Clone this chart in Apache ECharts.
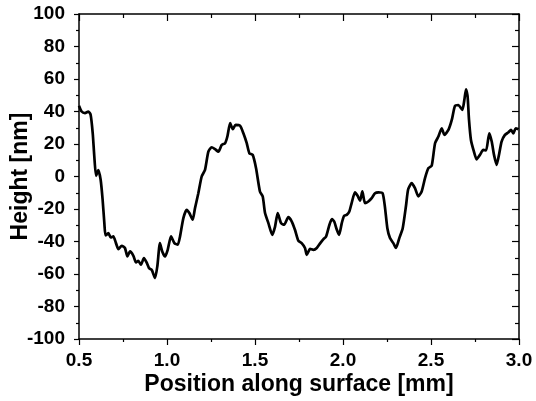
<!DOCTYPE html>
<html>
<head>
<meta charset="utf-8">
<script src="https://cdn.jsdelivr.net/npm/echarts@6/dist/echarts.min.js"></script>
<style>
  html, body { margin: 0; padding: 0; background: #fff; }
  #chart { width: 536px; height: 401px; }
</style>
</head>
<body>
<div id="chart"></div>
<script>
// surface profile
var positionMm = [
  0.500, 0.515, 0.534, 0.553, 0.566, 0.578, 0.587, 0.597, 0.610, 0.623,
  0.634, 0.644, 0.651, 0.667, 0.680, 0.695, 0.710, 0.724, 0.743, 0.761,
  0.775, 0.790, 0.809, 0.824, 0.837, 0.852, 0.869, 0.884, 0.898, 0.913,
  0.932, 0.945, 0.960, 0.973, 0.989, 1.004, 1.023, 1.042, 1.061, 1.074,
  1.093, 1.112, 1.127, 1.146, 1.159, 1.178, 1.197, 1.216, 1.235, 1.254,
  1.273, 1.292, 1.311, 1.330, 1.343, 1.359, 1.374, 1.390, 1.415, 1.434,
  1.453, 1.468, 1.487, 1.506, 1.528, 1.544, 1.557, 1.576, 1.598, 1.614,
  1.629, 1.648, 1.666, 1.689, 1.709, 1.727, 1.746, 1.765, 1.784, 1.794,
  1.813, 1.832, 1.851, 1.871, 1.889, 1.904, 1.923, 1.937, 1.950, 1.965,
  1.978, 1.993, 2.006, 2.021, 2.036, 2.049, 2.068, 2.083, 2.097, 2.110,
  2.125, 2.144, 2.163, 2.182, 2.201, 2.225, 2.238, 2.252, 2.267, 2.286,
  2.301, 2.320, 2.339, 2.358, 2.370, 2.390, 2.409, 2.428, 2.447, 2.466,
  2.485, 2.504, 2.523, 2.542, 2.561, 2.576, 2.599, 2.618, 2.636, 2.655,
  2.678, 2.689, 2.699, 2.708, 2.716, 2.727, 2.744, 2.759, 2.778, 2.797,
  2.813, 2.831, 2.845, 2.858, 2.873, 2.888, 2.901, 2.920, 2.939, 2.955,
  2.968, 2.981, 2.996
];
var heightNm = [
  43.6, 40, 39, 40, 38, 26.6, 12.3, 0.4, 4, -2,
  -14, -28.7, -36.3, -34.9, -37.5, -36.9, -41, -44.7, -42.6, -44,
  -49.2, -46.1, -48.8, -52.9, -51.9, -54.3, -50.2, -52.9, -56.4, -57.4,
  -62.5, -55.3, -41, -46.1, -49.2, -45.1, -36.9, -41, -42, -36.9,
  -25.6, -20.5, -22.5, -26.6, -19.5, -10.3, 0, 4.1, 15.3, 18,
  16.8, 15.3, 19.5, 20.5, 24.6, 32.8, 29.1, 31.8, 31.3, 26.6,
  20.5, 14.3, 13.3, 5.1, -9.2, -12.3, -22.5, -28.7, -35.9, -30.8,
  -22.5, -28.7, -29.7, -25, -27.7, -32.8, -39.5, -41, -44, -48.2,
  -44.5, -45.1, -44, -41, -38.5, -36.9, -29.7, -26.2, -27.7, -32.8,
  -35.9, -28.7, -24.2, -23.6, -21.5, -16.4, -9.8, -11.9, -14.8, -9.2,
  -16.4, -15.4, -13.3, -10.3, -9.8, -10.3, -18.5, -31.8, -37.9, -41,
  -44, -37.9, -32, -18, -8, -4.1, -7.2, -12.3, -9.2, -1,
  5.1, 6.6, 20.5, 24.6, 29.7, 25.6, 28.7, 34.8, 43.4, 44,
  41, 46.7, 53.7, 49.2, 34.8, 22.5, 15.3, 10.6, 13.3, 16.4,
  16, 26.6, 21.5, 13.3, 7.2, 14.3, 21.5, 25.6, 27.1, 28.7,
  26.6, 29.7, 29.1
];

var xRange = [0.5, 3.0];
var yRange = [-100, 100];

var profile = positionMm.map(function (x, i) {
  return [x, heightNm[i]];
});

var chart = echarts.init(document.getElementById('chart'), null, { renderer: 'canvas' });

var font = 'Liberation Sans, Arial, sans-serif';
var axisLine = { show: true, onZero: false, lineStyle: { color: '#000', width: 1.5 } };

var option = {
  animation: false,
  backgroundColor: '#fff',
  grid: { left: 79, right: 17, top: 14, bottom: 62, outerBoundsMode: 'none', containLabel: false },
  xAxis: [
    {
      type: 'value',
      min: xRange[0],
      max: xRange[1],
      interval: 0.5,
      name: 'Position along surface [mm]',
      nameLocation: 'middle',
      nameGap: 34,
      nameMoveOverlap: false,
      nameTextStyle: { fontFamily: font, fontWeight: 'bold', fontSize: 23, color: '#000' },
      axisLine: axisLine,
      axisTick: { show: true, length: 6, lineStyle: { color: '#000', width: 1.2 } },
      minorTick: { show: true, splitNumber: 2, length: 3, lineStyle: { color: '#000', width: 1.2 } },
      axisLabel: {
        fontFamily: font, fontWeight: 'bold', fontSize: 19, color: '#000', margin: 12,
        formatter: function (v) { return v.toFixed(1); }
      },
      splitLine: { show: false }
    },
    {
      type: 'value',
      position: 'top',
      min: xRange[0],
      max: xRange[1],
      interval: 0.5,
      axisLine: axisLine,
      axisTick: { show: true, inside: true, length: 7, lineStyle: { color: '#000', width: 1.2 } },
      minorTick: { show: true, splitNumber: 2, length: 4, lineStyle: { color: '#000', width: 1.2 } },
      axisLabel: { show: false },
      splitLine: { show: false }
    }
  ],
  yAxis: [
    {
      type: 'value',
      min: yRange[0],
      max: yRange[1],
      interval: 20,
      name: 'Height [nm]',
      nameLocation: 'middle',
      nameGap: 47,
      nameMoveOverlap: false,
      nameTextStyle: { fontFamily: font, fontWeight: 'bold', fontSize: 23, color: '#000' },
      axisLine: axisLine,
      axisTick: { show: true, length: 5, lineStyle: { color: '#000', width: 1.2 } },
      minorTick: { show: true, splitNumber: 2, length: 3, lineStyle: { color: '#000', width: 1.2 } },
      axisLabel: { fontFamily: font, fontWeight: 'bold', fontSize: 19, color: '#000', margin: 14 },
      splitLine: { show: false }
    },
    {
      type: 'value',
      position: 'right',
      min: yRange[0],
      max: yRange[1],
      interval: 20,
      axisLine: axisLine,
      axisTick: { show: true, inside: true, length: 7, lineStyle: { color: '#000', width: 1.2 } },
      minorTick: { show: true, splitNumber: 2, length: 4, lineStyle: { color: '#000', width: 1.2 } },
      axisLabel: { show: false },
      splitLine: { show: false }
    }
  ],
  series: [
    {
      name: 'Height',
      type: 'line',
      xAxisIndex: 0,
      yAxisIndex: 0,
      data: profile,
      showSymbol: false,
      smooth: 0.2,
      lineStyle: { color: '#000', width: 2.7 }
    }
  ]
};

chart.setOption(option);
</script>
</body>
</html>
